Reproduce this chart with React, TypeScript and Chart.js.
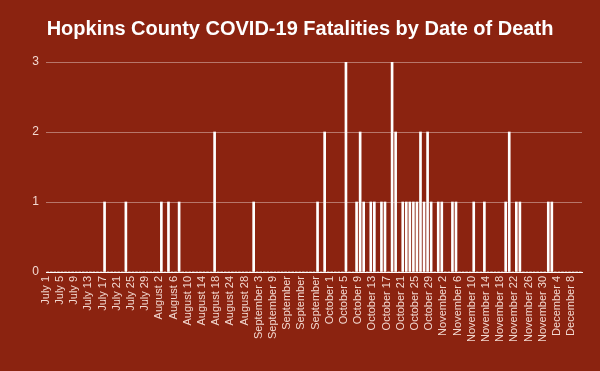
import React, { useEffect, useRef } from "react";
import { Chart, registerables } from "chart.js";

Chart.register(...registerables);

const categories: string[] = [
  "July 1", "July 2", "July 3", "July 4", "July 5", "July 6", "July 7", "July 8", "July 9", "July 10",
  "July 11", "July 12", "July 13", "July 14", "July 15", "July 16", "July 17", "July 18", "July 19", "July 20",
  "July 21", "July 22", "July 23", "July 24", "July 25", "July 26", "July 27", "July 28", "July 29", "July 30", "July 31",
  "August 1", "August 2", "August 3", "August 4", "August 5", "August 6", "August 7", "August 8", "August 9", "August 10",
  "August 11", "August 12", "August 13", "August 14", "August 15", "August 16", "August 17", "August 18", "August 19", "August 20",
  "August 21", "August 24", "August 25", "August 26", "August 27", "August 28", "August 31",
  "September 1", "September 2", "September 3", "September 4", "September 7", "September 8", "September 9", "September 10",
  "September 11", "September 14", "September 15", "September 16", "September 17", "September 18", "September 21", "September 22",
  "September 23", "September 24", "September 25", "September 28", "September 29", "September 30",
  "October 1", "October 2", "October 3", "October 4", "October 5", "October 6", "October 7", "October 8", "October 9", "October 10",
  "October 11", "October 12", "October 13", "October 14", "October 15", "October 16", "October 17", "October 18", "October 19", "October 20",
  "October 21", "October 22", "October 23", "October 24", "October 25", "October 26", "October 27", "October 28", "October 29", "October 30", "October 31",
  "November 1", "November 2", "November 3", "November 4", "November 5", "November 6", "November 7", "November 8", "November 9", "November 10",
  "November 11", "November 12", "November 13", "November 14", "November 15", "November 16", "November 17", "November 18", "November 19", "November 20",
  "November 21", "November 22", "November 23", "November 24", "November 25", "November 26", "November 27", "November 28", "November 29", "November 30",
  "December 1", "December 2", "December 3", "December 4", "December 5", "December 6", "December 7", "December 8", "December 9", "December 10",
];

// Shown axis labels (one every 4 categories), as they appear in the picture
const tickLabels: string[] = [
  "July 1", "July 5", "July 9", "July 13", "July 17", "July 21", "July 25", "July 29",
  "August 2", "August 6", "August 10", "August 14", "August 18", "August 24", "August 28",
  "September 3", "September 9", "September", "September", "September",
  "October 1", "October 5", "October 9", "October 13", "October 17", "October 21", "October 25", "October 29",
  "November 2", "November 6", "November 10", "November 14", "November 18", "November 22", "November 26", "November 30",
  "December 4", "December 8",
];

const deathDates: string[] = [
  "July 17", "July 23", "August 2", "August 4", "August 7", "August 17",
  "September 1", "September 25", "September 29",
  "October 5", "October 8", "October 9", "October 10", "October 12", "October 13", "October 15", "October 16",
  "October 18", "October 19", "October 21", "October 22", "October 23", "October 24", "October 25",
  "October 26", "October 27", "October 28", "October 29", "October 31",
  "November 1", "November 4", "November 5", "November 10", "November 13", "November 19", "November 20",
  "November 22", "November 23", "December 1", "December 2",
];
const deathCounts: number[] = [
  1, 1, 1, 1, 1, 2,
  1, 1, 2,
  3, 1, 2, 1, 1, 1, 1, 1,
  3, 2, 1, 1, 1, 1, 1,
  2, 1, 2, 1, 1,
  1, 1, 1, 1, 1, 1, 2,
  1, 1, 1, 1,
];

const yTicks: number[] = [0, 1, 2, 3];

const BG = "#8b2310";
const FONT = "'Liberation Sans', Arial, sans-serif";
const LABEL_COLOR = "#f3d9d1";

export default function App() {
  const ref = useRef<HTMLCanvasElement | null>(null);

  useEffect(() => {
    if (!ref.current) return;
    const values = categories.map((c) => {
      const k = deathDates.indexOf(c);
      return k >= 0 ? deathCounts[k] : 0;
    });
    const chart = new Chart(ref.current, {
      type: "bar",
      data: {
        labels: categories,
        datasets: [
          {
            label: "Deaths",
            data: values,
            backgroundColor: "#ffffff",
            borderWidth: 0,
            barThickness: 2,
            xAxisID: "x",
            yAxisID: "y",
          },
        ],
      },
      options: {
        animation: false,
        responsive: false,
        maintainAspectRatio: false,
        layout: { padding: 0 },
        plugins: {
          legend: { display: false },
          tooltip: { enabled: false },
          title: {
            display: true,
            text: "Hopkins County COVID-19 Fatalities by Date of Death",
            color: "#ffffff",
            font: { family: FONT, size: 20, weight: "bold" },
            padding: { top: 17, bottom: 21 },
          },
        },
        scales: {
          x: {
            type: "category",
            offset: true,
            grid: { display: false, drawTicks: false },
            border: { display: true, color: "#ffffff", width: 1 },
            ticks: {
              autoSkip: false,
              minRotation: 90,
              maxRotation: 90,
              padding: 4,
              labelOffset: -2,
              color: LABEL_COLOR,
              font: { family: FONT, size: 11 },
              callback: (_v: any, index: number) =>
                index % 4 === 0 ? tickLabels[index / 4] ?? "" : "",
            },
            afterFit: (s: any) => {
              s.height = 99;
            },
          },
          y: {
            min: yTicks[0],
            max: yTicks[yTicks.length - 1],
            grid: {
              drawTicks: false,
              color: (ctx: any) =>
                ctx.tick && ctx.tick.value === 0 ? "#ffffff" : "rgba(255,255,255,0.38)",
              lineWidth: 1,
            },
            border: { display: false },
            afterBuildTicks: (s: any) => {
              s.ticks = yTicks.map((v) => ({ value: v }));
            },
            ticks: {
              padding: 7,
              color: LABEL_COLOR,
              font: { family: FONT, size: 12 },
            },
            afterFit: (s: any) => {
              s.width = 46;
            },
          },
          yRight: {
            position: "right",
            min: 0,
            max: 3,
            grid: { display: false, drawTicks: false },
            border: { display: false },
            ticks: { display: false },
            afterFit: (s: any) => {
              s.width = 18;
            },
          },
        },
      },
    });
    return () => chart.destroy();
  }, []);

  return (
    <div
      style={{
        position: "fixed",
        left: 0,
        top: 0,
        width: 600,
        height: 371,
        background: BG,
      }}
    >
      <canvas ref={ref} width={600} height={371} style={{ display: "block" }} />
    </div>
  );
}
